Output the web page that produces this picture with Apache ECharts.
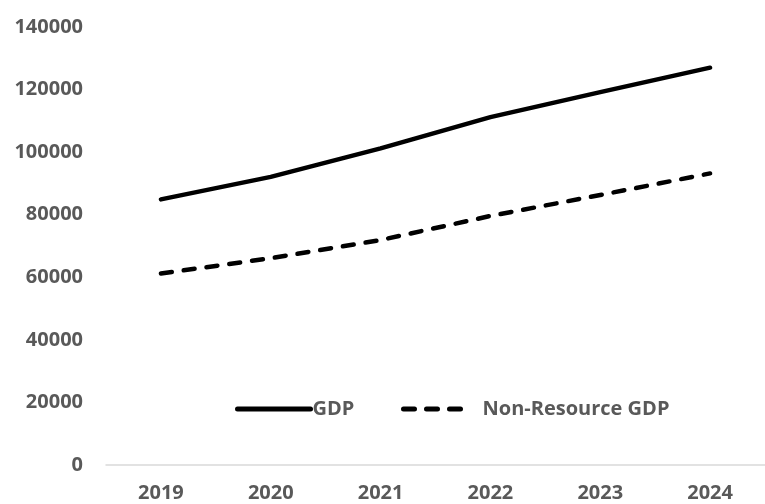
<!DOCTYPE html>
<html>
<head>
<meta charset="utf-8">
<script src="https://cdn.jsdelivr.net/npm/echarts@6/dist/echarts.min.js"></script>
<style>html,body{margin:0;padding:0;background:#fff;}#c{width:765px;height:504px;}</style>
</head>
<body>
<div id="c"></div>
<script>
const years = ['2019', '2020', '2021', '2022', '2023', '2024'];
const gdp = [84900, 92100, 101200, 111200, 119200, 127000];
const nonResourceGdp = [61200, 66100, 71900, 79600, 86300, 93200];
const yTicks = [0, 20000, 40000, 60000, 80000, 100000, 120000, 140000];

const font = "'Open Sans', 'Liberation Sans', sans-serif";
const textColor = '#595959';
const legendText = { color: textColor, fontFamily: font, fontWeight: 'bold', fontSize: 20 };
const chart = echarts.init(document.getElementById('c'));
chart.setOption({
  animation: false,
  backgroundColor: '#ffffff',
  grid: { left: 106, top: 27, width: 670, height: 438, containLabel: false },
  legend: [
    {
      data: ['GDP'], top: 394, left: 230,
      itemWidth: 73, itemHeight: 24,
      itemStyle: { opacity: 0 }, lineStyle: { width: 5, cap: 'round' },
      textStyle: Object.assign({ padding: [0, 0, 0, -3] }, legendText)
    },
    {
      data: ['Non-Resource GDP'], top: 394, left: 396,
      itemWidth: 62, itemHeight: 24,
      itemStyle: { opacity: 0 }, lineStyle: { width: 5, cap: 'round' },
      textStyle: Object.assign({ padding: [0, 0, 0, 12] }, legendText)
    }
  ],
  xAxis: {
    type: 'category', data: years, boundaryGap: true,
    axisLine: { show: true, lineStyle: { color: '#d9d9d9', width: 1.5 } },
    axisTick: { show: false },
    axisLabel: { color: textColor, fontFamily: font, fontWeight: 'bold', fontSize: 20, margin: 18 }
  },
  yAxis: {
    type: 'value', min: yTicks[0], max: yTicks[yTicks.length - 1], interval: 20000,
    axisLine: { show: false }, axisTick: { show: false }, splitLine: { show: false },
    axisLabel: { color: textColor, fontFamily: font, fontWeight: 'bold', fontSize: 20, margin: 23,
      formatter: v => String(v) }
  },
  series: [
    { name: 'GDP', type: 'line', data: gdp, symbol: 'none', color: '#000',
      lineStyle: { color: '#000', width: 4.5, cap: 'round', join: 'round' } },
    { name: 'Non-Resource GDP', type: 'line', data: nonResourceGdp, symbol: 'none', color: '#000',
      lineStyle: { color: '#000', width: 4.5, type: [11, 12], cap: 'round', join: 'round' } }
  ]
});
</script>
</body>
</html>
